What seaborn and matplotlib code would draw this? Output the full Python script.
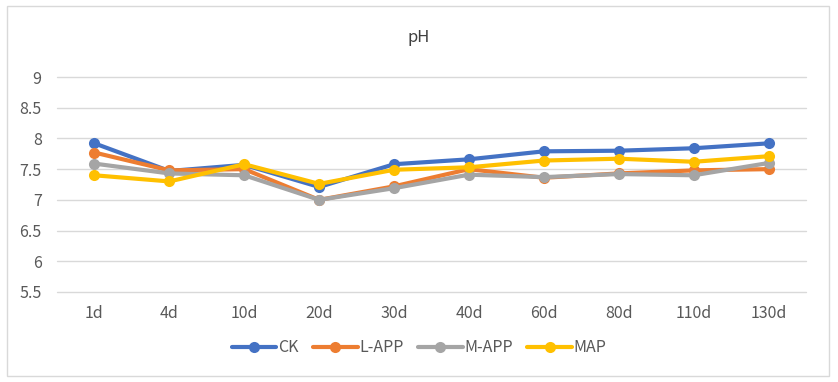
import matplotlib
matplotlib.use("Agg")
import matplotlib.pyplot as plt
import seaborn as sns
import pandas as pd
from matplotlib.patches import Rectangle

days = ["1d", "4d", "10d", "20d", "30d", "40d", "60d", "80d", "110d", "130d"]
ck = [7.92, 7.47, 7.57, 7.21, 7.58, 7.66, 7.79, 7.80, 7.84, 7.92]
l_app = [7.77, 7.48, 7.50, 7.00, 7.22, 7.50, 7.36, 7.43, 7.48, 7.50]
m_app = [7.59, 7.43, 7.40, 7.00, 7.19, 7.41, 7.37, 7.42, 7.40, 7.60]
map_ = [7.40, 7.30, 7.58, 7.26, 7.49, 7.53, 7.64, 7.67, 7.62, 7.71]
series_names = ["CK", "L-APP", "M-APP", "MAP"]
colors = ["#4472C4", "#ED7D31", "#A5A5A5", "#FFC000"]

rows = []
for name, vals in zip(series_names, [ck, l_app, m_app, map_]):
    for d, v in zip(days, vals):
        rows.append({"day": d, "pH": v, "series": name})
df = pd.DataFrame(rows)

sns.set_style("white")
plt.rcParams["font.family"] = ["Noto Sans CJK SC", "DejaVu Sans"]

fig = plt.figure(figsize=(8.38, 3.82), dpi=100)
ax = fig.add_axes([57/838, 1-292/382, 749/838, 215/382])

sns.lineplot(data=df, x="day", y="pH", hue="series", hue_order=series_names,
             palette=colors, marker="o", markersize=8, markeredgewidth=0,
             linewidth=3.0, sort=False, ax=ax, zorder=3)

ax.set_xlim(-0.5, len(days) - 0.5)
ax.set_ylim(5.5, 9)
ax.set_yticks([5.5, 6, 6.5, 7, 7.5, 8, 8.5, 9])
ax.set_yticklabels(["5.5", "6", "6.5", "7", "7.5", "8", "8.5", "9"])
ax.grid(axis="y", color="#D9D9D9", linewidth=1.0, zorder=0)
ax.grid(axis="x", visible=False)
for gl in ax.get_ygridlines():
    gl.set_clip_on(False)
for s in ax.spines.values():
    s.set_visible(False)
ax.tick_params(axis="both", length=0, labelsize=11.5, labelcolor="#595959")
ax.tick_params(axis="x", pad=9)
ax.tick_params(axis="y", pad=11)
ax.set_xlabel("")
ax.set_ylabel("")

fig.text(0.5, 1-37/382, "pH", ha="center", va="center", fontsize=12, color="#404040")

handles, labels = ax.get_legend_handles_labels()
ax.legend(handles, labels, loc="center", bbox_to_anchor=(0.5, 1-348/382),
          bbox_transform=fig.transFigure, ncol=4, frameon=False,
          handlelength=2.8, handletextpad=0.1, columnspacing=0.9,
          fontsize=11.5, labelcolor="#595959")

fig.patches.append(Rectangle((7/838, 6/382), 822/838, 370/382, transform=fig.transFigure,
                             fill=False, edgecolor="#D9D9D9", linewidth=1.0))

fig.savefig("out.png", dpi=100, facecolor="white")
